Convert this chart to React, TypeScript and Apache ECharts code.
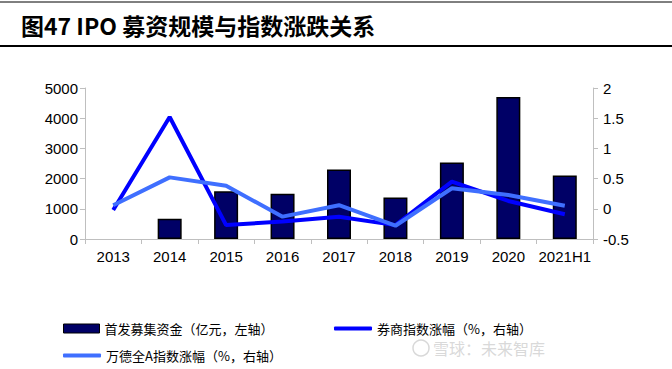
import React, { useEffect, useRef } from "react";
import * as echarts from "echarts";

const categories = ["2013", "2014", "2015", "2016", "2017", "2018", "2019", "2020", "2021H1"];
const ipoFunds = [null, 669, 1578, 1496, 2301, 1378, 2532, 4700, 2100];
const brokerIndex = [-0.02, 1.52, -0.27, -0.21, -0.13, -0.27, 0.45, 0.13, -0.09];
const windA = [0.06, 0.52, 0.38, -0.13, 0.06, -0.28, 0.34, 0.23, 0.05];

const NAME_BAR = "首发募集资金（亿元，左轴）";
const NAME_BROKER = "券商指数涨幅（%，右轴）";
const NAME_WIND = "万德全A指数涨幅（%，右轴）";

const LATIN = "'Liberation Sans', Arial, sans-serif";
const CJK = "'Noto Sans CJK SC', sans-serif";

export default function App() {
  const ref = useRef<HTMLDivElement>(null);
  useEffect(() => {
    if (!ref.current) return;
    const chart = echarts.init(ref.current, null, { renderer: "svg" });
    const legendText = { fontFamily: CJK, fontSize: 13, color: "#000" };
    chart.setOption({
      animation: false,
      backgroundColor: "#fff",
      graphic: [
        { type: "line", shape: { x1: 0, y1: 2, x2: 672, y2: 2 }, style: { stroke: "#000", lineWidth: 1 } },
        { type: "line", shape: { x1: 0, y1: 46, x2: 672, y2: 46 }, style: { stroke: "#000", lineWidth: 2 } },
        {
          type: "text",
          x: 21,
          y: 25,
          style: {
            text: "图47 IPO 募资规模与指数涨跌关系",
            fontFamily: CJK,
            fontWeight: "bold",
            fontSize: 23,
            fill: "#000",
            verticalAlign: "middle",
          },
        },
        {
          type: "circle",
          shape: { cx: 421, cy: 348, r: 8 },
          style: { fill: "none", stroke: "rgba(200,200,200,0.7)", lineWidth: 1.5 },
        },
        {
          type: "text",
          x: 433,
          y: 348,
          style: {
            text: "雪球：未来智库",
            fontFamily: CJK,
            fontSize: 16,
            fill: "rgba(200,200,200,0.7)",
            verticalAlign: "middle",
          },
        },
      ],
      grid: { left: 85, right: 79, top: 88, bottom: 130 },
      legend: [
        {
          data: [{ name: NAME_BAR, itemStyle: { color: "#000066", borderColor: "#000", borderWidth: 1 } }],
          left: 58, top: 317, itemWidth: 36, itemHeight: 9, icon: "rect", textStyle: legendText,
        },
        {
          data: [{ name: NAME_BROKER, icon: "roundRect" }],
          left: 329, top: 317, itemWidth: 38, itemHeight: 4, textStyle: legendText,
        },
        {
          data: [{ name: NAME_WIND, icon: "roundRect" }],
          left: 58, top: 344, itemWidth: 38, itemHeight: 4, textStyle: legendText,
        },
      ],
      xAxis: {
        type: "category",
        data: categories,
        boundaryGap: true,
        axisLine: { lineStyle: { color: "#bfbfbf" } },
        axisTick: { show: true, alignWithLabel: false, lineStyle: { color: "#bfbfbf" } },
        axisLabel: { color: "#000", fontFamily: LATIN, fontSize: 15, margin: 10, interval: 0 },
      },
      yAxis: [
        {
          type: "value",
          min: 0,
          max: 5000,
          interval: 1000,
          position: "left",
          splitLine: { show: false },
          axisLine: { show: true, lineStyle: { color: "#bfbfbf" } },
          axisTick: { show: true, lineStyle: { color: "#bfbfbf" } },
          axisLabel: { color: "#000", fontFamily: LATIN, fontSize: 15, margin: 7, formatter: (v: number) => String(v) },
        },
        {
          type: "value",
          min: -0.5,
          max: 2,
          interval: 0.5,
          position: "right",
          splitLine: { show: false },
          axisLine: { show: true, lineStyle: { color: "#bfbfbf" } },
          axisTick: { show: true, lineStyle: { color: "#bfbfbf" } },
          axisLabel: { color: "#000", fontFamily: LATIN, fontSize: 15, margin: 10, formatter: (v: number) => String(v) },
        },
      ],
      series: [
        {
          name: NAME_BAR,
          type: "bar",
          yAxisIndex: 0,
          data: ipoFunds,
          barWidth: 24,
          itemStyle: { color: "#000066", borderColor: "#000", borderWidth: 1.5 },
        },
        {
          name: NAME_BROKER,
          type: "line",
          yAxisIndex: 1,
          data: brokerIndex,
          symbol: "none",
          lineStyle: { color: "#0000ff", width: 4 },
          itemStyle: { color: "#0000ff" },
        },
        {
          name: NAME_WIND,
          type: "line",
          yAxisIndex: 1,
          data: windA,
          symbol: "none",
          lineStyle: { color: "#3f6fff", width: 4 },
          itemStyle: { color: "#3f6fff" },
        },
      ],
    });
    return () => chart.dispose();
  }, []);
  return <div ref={ref} style={{ position: "fixed", left: 0, top: 0, width: 672, height: 369 }} />;
}
